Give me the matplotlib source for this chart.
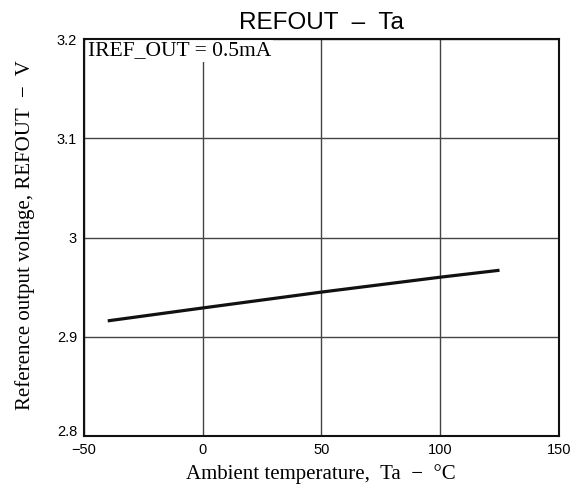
import numpy as np
import matplotlib.pyplot as plt

# Datos
ta = [-40, 0, 50, 100, 125]
refout = [2.916, 2.929, 2.945, 2.960, 2.967]

x_ticks = [-50, 0, 50, 100, 150]
y_ticks = [2.8, 2.9, 3.0, 3.1, 3.2]
y_tick_labels = ['2.8', '2.9', '3', '3.1', '3.2']

serif = ['Liberation Serif', 'DejaVu Serif']
sans = ['Liberation Sans', 'DejaVu Sans']

fig = plt.figure(figsize=(5.84, 4.88), dpi=100)
ax = fig.add_axes([0.1438, 0.1066, 0.8132, 0.8134])

ax.plot(ta, refout, color='#111111', linewidth=2.3, solid_capstyle='butt')

ax.set_xlim(-50, 150)
ax.set_ylim(2.8, 3.2)
ax.set_xticks(x_ticks)
ax.set_yticks(y_ticks)
ax.set_xticklabels([str(v) if v >= 0 else '\u2212' + str(-v) for v in x_ticks], family=sans, fontsize=10.5)
ax.set_yticklabels(y_tick_labels, family=sans, fontsize=10.5)
ax.get_yticklabels()[0].set_va('baseline')
ax.tick_params(length=0, pad=5)
ax.grid(True, color='#444444', linewidth=1.0)
for s in ax.spines.values():
    s.set_linewidth(1.5)
    s.set_color('#111111')

ax.set_title('REFOUT  \u2013  Ta', family=sans, fontsize=17.5, y=1.0252, va='baseline', pad=0)
ax.set_xlabel('Ambient temperature,  Ta  \u2212  \u00b0C', family=serif, fontsize=15)
ax.xaxis.set_label_coords(0.498, -0.07)
ax.set_ylabel('Reference output voltage, REFOUT  \u2212  V', family=serif, fontsize=15)
ax.yaxis.set_label_coords(-0.103, 0.506)
# texto con fondo blanco, debajo del marco pero encima de la rejilla
ax.text(0.0084, 0.995, 'IREF_OUT = 0.5mA', transform=ax.transAxes, family=serif,
        fontsize=15.5, va='top', ha='left', zorder=2.2,
        bbox=dict(facecolor='white', edgecolor='none', pad=1.5))

fig.savefig('out.png', dpi=100)
